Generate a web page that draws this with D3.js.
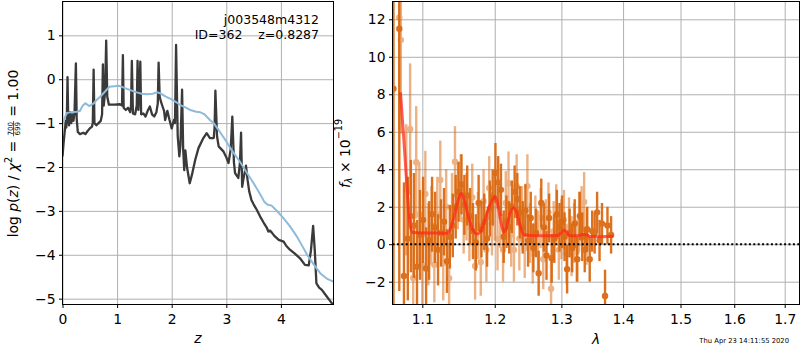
<!DOCTYPE html>
<html>
<head>
<meta charset="utf-8">
<script src="https://cdn.jsdelivr.net/npm/d3@7"></script>
<style>
  body { margin: 0; background: #fff; }
  svg { display: block; }
  text { font-family: "DejaVu Sans", sans-serif; fill: #000; }
</style>
</head>
<body>
<svg id="fig" width="800" height="350"></svg>
<script>
// ---- data: left panel, log p(z) (dark) and prior-ish smooth curve (blue) [z, value]
var pzDark = [
  [0.00,-1.76],[0.02,-1.45],[0.04,-1.2],[0.06,-0.95],[0.07,-1.1],[0.08,-0.85],[0.092,0.05],[0.105,-0.9],
  [0.12,-1.05],[0.14,-0.75],[0.16,-1.0],[0.18,-0.8],[0.2,-0.95],[0.22,-0.78],[0.245,0.36],[0.26,-0.9],
  [0.28,-1.2],[0.32,-1.25],[0.38,-1.22],[0.42,-1.25],[0.46,-1.18],[0.5,-1.12],[0.54,-1.08],[0.555,-1.0],
  [0.57,0.22],[0.585,-1.0],[0.62,-1.05],[0.66,-1.0],[0.7,-0.95],[0.725,-0.8],[0.74,0.34],[0.755,-0.6],
  [0.78,-0.3],[0.80,0.88],[0.82,-0.4],[0.85,-0.58],[0.95,-0.58],[1.05,-0.57],[1.09,-0.6],[1.106,0.55],
  [1.12,-0.65],[1.16,-0.7],[1.2,-0.65],[1.24,-0.75],[1.255,-0.6],[1.27,0.42],[1.29,-0.78],[1.33,-0.8],
  [1.36,-0.6],[1.375,0.42],[1.39,-0.7],[1.41,-0.2],[1.425,0.40],[1.44,-0.8],[1.48,-0.78],[1.52,-0.85],
  [1.56,-0.72],[1.6,-0.62],[1.64,-0.8],[1.68,-0.85],[1.72,-0.75],[1.745,-0.55],[1.76,0.38],[1.78,-0.4],
  [1.80,-0.5],[1.84,-0.65],[1.86,-0.72],[1.88,-0.93],[1.92,-0.72],[1.96,-0.93],[2.0,-1.12],[2.04,-0.93],
  [2.06,-1.0],[2.08,0.78],[2.11,-1.3],[2.14,-1.76],[2.16,-1.5],[2.19,-0.24],[2.21,-1.6],[2.23,-2.07],
  [2.25,-1.62],[2.28,-2.0],[2.33,-2.37],[2.37,-2.18],[2.43,-1.84],[2.49,-1.57],[2.58,-1.34],[2.64,-1.23],
  [2.70,-1.34],[2.77,-1.34],[2.785,-1.1],[2.80,-0.26],[2.83,-1.3],[2.86,-1.53],[2.95,-1.65],[3.0,-1.78],
  [3.04,-1.91],[3.08,-1.6],[3.11,-0.85],[3.14,-1.9],[3.16,-2.14],[3.22,-2.25],[3.25,-1.9],[3.27,-1.22],
  [3.29,-2.45],[3.31,-2.3],[3.34,-2.1],[3.36,-1.97],[3.39,-2.3],[3.42,-2.56],[3.46,-2.75],[3.5,-2.85],
  [3.56,-2.98],[3.62,-3.13],[3.68,-3.26],[3.74,-3.38],[3.77,-3.47],[3.8,-3.45],[3.83,-3.49],[3.88,-3.57],
  [3.96,-3.66],[4.05,-3.70],[4.1,-3.8],[4.17,-3.89],[4.25,-3.97],[4.35,-4.08],[4.44,-4.23],[4.51,-4.24],
  [4.55,-3.9],[4.59,-3.34],[4.62,-3.9],[4.65,-4.65],[4.7,-4.75],[4.75,-4.8],[4.84,-4.95],[4.9,-5.05],
  [4.93,-5.10],[4.96,-5.15]
];
var pzBlue = [
  [0.0,-1.0],[0.02,-0.93],[0.08,-0.77],[0.15,-0.75],[0.26,-0.74],[0.32,-0.72],[0.37,-0.6],[0.42,-0.55],
  [0.49,-0.61],[0.57,-0.55],[0.62,-0.48],[0.69,-0.40],[0.78,-0.28],[0.86,-0.17],[0.95,-0.16],[1.03,-0.15],
  [1.1,-0.18],[1.18,-0.22],[1.27,-0.26],[1.36,-0.30],[1.45,-0.33],[1.55,-0.34],[1.65,-0.33],[1.73,-0.30],
  [1.79,-0.32],[1.9,-0.40],[2.0,-0.46],[2.08,-0.52],[2.16,-0.59],[2.25,-0.64],[2.34,-0.70],[2.45,-0.74],
  [2.52,-0.75],[2.6,-0.80],[2.70,-0.93],[2.77,-1.0],[2.86,-1.16],[2.98,-1.38],[3.1,-1.62],[3.25,-1.88],
  [3.37,-2.12],[3.5,-2.37],[3.62,-2.62],[3.70,-2.80],[3.76,-2.86],[3.83,-2.88],[3.94,-3.02],[4.05,-3.17],
  [4.17,-3.36],[4.29,-3.58],[4.4,-3.82],[4.48,-4.0],[4.6,-4.22],[4.72,-4.42],[4.85,-4.55],[4.96,-4.61]
];
var zTicks = [0, 1, 2, 3, 4];
var lnpTicks = [-5, -4, -3, -2, -1, 0, 1];

// ---- data: right panel spectra [lambda (um), flux (1e-19), err]
var darkSpec = [
  [1.0625,8.3,20],[1.0700,11.5,14],[1.0760,-1.7,5],[1.0810,0.3,3.3],[1.0850,1.5,3.0],[1.0890,1.0,2.8],
  [1.0930,-1.2,2.5],[1.0970,0.5,2.4],[1.1010,1.3,2.3],[1.1050,-1.3,2.2],[1.1090,0.2,2.1],[1.1130,1.6,2.0],
  [1.1170,0.9,1.9],[1.1210,-0.3,1.9],[1.1250,0.6,1.8],[1.1290,1.2,1.8],[1.1330,-0.9,1.7],[1.1370,0.4,1.7],
  [1.1410,1.0,1.7],[1.1450,2.0,1.7],[1.1490,2.8,1.6],[1.1530,3.2,1.6],[1.1570,2.1,1.6],[1.1610,2.6,1.6],
  [1.1650,1.5,1.5],[1.1690,0.7,1.5],[1.1730,0.1,1.5],[1.1770,2.2,1.5],[1.1810,0.8,1.5],[1.1850,1.2,1.5],
  [1.1890,0.3,1.5],[1.1930,1.9,1.5],[1.1970,2.5,1.5],[1.2010,3.8,1.6],[1.2050,3.3,1.4],[1.2090,2.9,1.4],
  [1.2130,0.4,1.4],[1.2170,1.2,1.4],[1.2210,0.9,1.4],[1.2250,2.0,1.4],[1.2290,2.8,1.4],[1.2330,2.4,1.4],
  [1.2370,1.7,1.4],[1.2410,0.9,1.4],[1.2450,1.8,1.4],[1.2490,0.2,1.4],[1.2530,1.4,1.4],[1.2570,-0.2,1.3],
  [1.2610,0.6,1.3],[1.2650,-1.55,1.2],[1.2690,2.2,1.3],[1.2730,0.9,1.3],[1.2770,-0.6,1.3],[1.2810,1.4,1.3],
  [1.2850,-0.75,1.3],[1.2890,0.3,1.3],[1.2930,1.6,1.3],[1.2970,0.9,1.3],[1.3010,1.2,1.4],[1.3050,0.4,1.3],
  [1.3090,-1.33,1.3],[1.3130,0.6,1.3],[1.3170,-0.2,1.3],[1.3210,1.1,1.3],[1.3250,-0.8,1.2],[1.3290,1.5,1.3],
  [1.3330,0.4,1.3],[1.3370,-0.3,1.2],[1.3410,0.8,1.2],[1.3450,-0.8,1.2],[1.3490,0.7,1.1],[1.3530,0.6,1.1],
  [1.3570,1.7,1.1],[1.3610,0.2,1.1],[1.3650,1.1,1.1],[1.3700,-2.76,1.4],[1.3740,1.0,1.0],[1.3800,0.5,1.0]
];
var lightSpec = [
  [1.0700,12.1,6],[1.0720,10.9,5],[1.0790,2.9,3.5],[1.0840,6.15,3.5],[1.0880,-1.8,2.5],[1.0920,4.37,3.0],
  [1.0960,1.6,2.8],[1.1000,-1.14,2.5],[1.1040,2.68,2.3],[1.1080,0.0,2.2],[1.1120,1.0,2.1],[1.1160,-1.1,2.0],
  [1.1200,1.6,2.0],[1.1240,3.43,2.1],[1.1280,-1.0,2.0],[1.1320,2.0,2.0],[1.1360,-1.81,1.9],[1.1400,1.9,1.9],
  [1.1440,4.4,1.9],[1.1480,2.6,1.8],[1.1520,3.0,1.8],[1.1560,1.3,1.8],[1.1600,2.0,1.8],[1.1640,0.9,1.8],
  [1.1680,2.5,1.8],[1.1720,-1.16,1.8],[1.1760,1.0,1.8],[1.1800,-0.95,1.8],[1.1840,2.3,1.7],[1.1880,-0.3,1.7],
  [1.1920,3.0,1.7],[1.1960,1.1,1.7],[1.2000,2.0,1.8],[1.2040,0.3,1.7],[1.2080,1.5,1.7],[1.2120,-0.3,1.7],
  [1.2160,2.2,1.7],[1.2200,3.25,1.7],[1.2240,0.5,1.7],[1.2280,-0.3,1.7],[1.2320,3.1,1.7],[1.2360,0.3,1.7],
  [1.2400,1.5,1.6],[1.2440,-0.2,1.6],[1.2480,3.1,1.7],[1.2520,0.6,1.6],[1.2560,-0.5,1.6],[1.2600,1.0,1.6],
  [1.2640,0.2,1.6],[1.2680,1.4,1.6],[1.2720,-0.8,1.6],[1.2760,0.8,1.6],[1.2800,1.7,1.6],[1.2840,-2.38,1.6],
  [1.2880,0.7,1.6],[1.2920,1.6,1.6],[1.2960,-0.3,1.6],[1.3000,0.8,1.6],[1.3040,1.3,1.6],[1.3080,-0.5,1.6],
  [1.3120,0.9,1.6],[1.3160,-0.1,1.6],[1.3200,0.6,1.6],[1.3240,-0.4,1.6],[1.3280,1.2,1.6],[1.3320,1.5,1.6],
  [1.3360,2.25,1.6],[1.3400,0.4,1.5]
];
var modelSpec = [
  [1.0715,8.1],[1.0760,5.5],[1.0800,3.0],[1.0840,1.0],[1.0880,0.62],[1.1000,0.6],[1.1200,0.6],[1.1330,0.58],
  [1.1380,0.85],[1.1430,1.5],[1.1480,2.3],[1.1530,2.72],[1.1580,2.2],[1.1630,1.4],[1.1680,0.85],[1.1720,0.6],
  [1.1760,0.55],[1.1800,0.7],[1.1850,1.2],[1.1900,1.8],[1.1960,2.3],[1.2010,2.54],[1.2060,1.8],[1.2100,1.0],
  [1.2130,0.64],[1.2170,0.9],[1.2210,1.5],[1.2270,1.95],[1.2320,1.7],[1.2370,1.0],[1.2430,0.5],[1.2600,0.45],
  [1.2800,0.45],[1.2950,0.48],[1.3000,0.62],[1.3040,0.74],[1.3080,0.65],[1.3130,0.45],[1.3250,0.45],[1.3340,0.52],
  [1.3400,0.5],[1.3450,0.42],[1.3600,0.4],[1.3840,0.42]
];
var lamTicks = [1.1, 1.2, 1.3, 1.4, 1.5, 1.6, 1.7];
var fluxTicks = [-2, 0, 2, 4, 6, 8, 10, 12];

var fs = 13.9;
var svg = d3.select('#fig');
var defs = svg.append('defs');

var boxL = {x0: 62.5, x1: 333.5, y0: 1.5, y1: 304.5};
var boxR = {x0: 392.5, x1: 799.5, y0: 1.5, y1: 304.5};

var xz = d3.scaleLinear().domain([0, 4.963]).range([boxL.x0, boxL.x1]);
var yz = d3.scaleLinear().domain([-5.133, 1.771]).range([boxL.y1, boxL.y0]);
var xl = d3.scaleLog().domain([1.0613, 1.7305]).range([boxR.x0, boxR.x1]);
var yf = d3.scaleLinear().domain([-3.217, 12.95]).range([boxR.y1, boxR.y0]);

function clip(id, b) {
  defs.append('clipPath').attr('id', id).append('rect')
    .attr('x', b.x0).attr('y', b.y0).attr('width', b.x1 - b.x0).attr('height', b.y1 - b.y0);
}
clip('clipL', boxL);
clip('clipR', boxR);

// grid + axes
function axes(b, x, y, xt, yt, xfmt, yfmt) {
  var gx = svg.append('g').attr('transform', 'translate(0,' + b.y1 + ')');
  gx.call(d3.axisBottom(x).tickValues(xt).tickSize(-(b.y1 - b.y0)).tickFormat(''));
  gx.select('.domain').remove();
  gx.selectAll('line').attr('stroke', '#b0b0b0').attr('stroke-width', 1);

  var gy = svg.append('g').attr('transform', 'translate(' + b.x0 + ',0)');
  gy.call(d3.axisLeft(y).tickValues(yt).tickSize(-(b.x1 - b.x0)).tickFormat(''));
  gy.select('.domain').remove();
  gy.selectAll('line').attr('stroke', '#b0b0b0').attr('stroke-width', 1);

  var ax = svg.append('g').attr('class', 'ax').attr('transform', 'translate(0,' + b.y1 + ')')
    .call(d3.axisBottom(x).tickValues(xt).tickSize(3.5).tickPadding(6.6).tickFormat(xfmt));
  var ay = svg.append('g').attr('class', 'ax').attr('transform', 'translate(' + b.x0 + ',0)')
    .call(d3.axisLeft(y).tickValues(yt).tickSize(3.5).tickPadding(3.5).tickFormat(yfmt));
  [ax, ay].forEach(function(a) {
    a.select('.domain').remove();
    a.selectAll('line').attr('stroke', '#000').attr('stroke-width', 1);
    a.selectAll('text').attr('font-size', fs).attr('font-family', '"DejaVu Sans", sans-serif').attr('fill', '#000');
  });
}
axes(boxL, xz, yz, zTicks, lnpTicks, d3.format('d'), d3.format('d'));
axes(boxR, xl, yf, lamTicks, fluxTicks, d3.format('.1f'), d3.format('d'));

// ---- left: p(z)
var gL = svg.append('g').attr('clip-path', 'url(#clipL)');
var lineZ = d3.line().x(function(d) { return xz(d[0]); }).y(function(d) { return yz(d[1]); });
gL.append('path').datum(pzDark).attr('d', lineZ)
  .attr('fill', 'none').attr('stroke', '#3a3a3a').attr('stroke-width', 2.3).attr('stroke-linejoin', 'round');
gL.append('path').datum(pzBlue).attr('d', lineZ)
  .attr('fill', 'none').attr('stroke', '#8fbbda').attr('stroke-width', 2);

// ---- right: spectrum
var gR = svg.append('g').attr('clip-path', 'url(#clipR)');
var orange = '#d9660c';
function spec(data, op) {
  var g = gR.append('g').attr('opacity', op);
  g.selectAll('line').data(data).enter().append('line')
    .attr('x1', function(d) { return xl(d[0]); }).attr('x2', function(d) { return xl(d[0]); })
    .attr('y1', function(d) { return yf(d[1] - d[2]); }).attr('y2', function(d) { return yf(d[1] + d[2]); })
    .attr('stroke', orange).attr('stroke-width', 2.4);
  g.selectAll('circle').data(data).enter().append('circle')
    .attr('cx', function(d) { return xl(d[0]); }).attr('cy', function(d) { return yf(d[1]); })
    .attr('r', 3.2).attr('fill', orange);
}
spec(lightSpec, 0.5);
spec(darkSpec, 0.92);

var lineS = d3.line().curve(d3.curveMonotoneX)
  .x(function(d) { return xl(d[0]); }).y(function(d) { return yf(d[1]); });
gR.append('path').datum(modelSpec).attr('d', lineS)
  .attr('fill', 'none').attr('stroke', '#ff2a1a').attr('stroke-opacity', 0.75).attr('stroke-width', 3);

gR.append('line').attr('x1', boxR.x0).attr('x2', boxR.x1).attr('y1', yf(0)).attr('y2', yf(0))
  .attr('stroke', '#000').attr('stroke-width', 2).attr('stroke-dasharray', '2,2.4');

// frames
[boxL, boxR].forEach(function(b) {
  svg.append('rect').attr('x', b.x0).attr('y', b.y0).attr('width', b.x1 - b.x0).attr('height', b.y1 - b.y0)
    .attr('fill', 'none').attr('stroke', '#000').attr('stroke-width', 1);
});

// ---- labels
svg.append('text').attr('x', 319).attr('y', 24).attr('text-anchor', 'end').attr('font-size', 12.5)
  .text('j003548m4312');
svg.append('text').attr('x', 319).attr('y', 39).attr('text-anchor', 'end').attr('font-size', 12.5)
  .attr('xml:space', 'preserve').style('white-space', 'pre')
  .text('ID=362    z=0.8287');

svg.append('text').attr('x', (boxL.x0 + boxL.x1) / 2).attr('y', 343).attr('text-anchor', 'middle')
  .attr('font-size', fs).attr('font-style', 'italic').text('z');
svg.append('text').attr('x', (boxR.x0 + boxR.x1) / 2).attr('y', 344).attr('text-anchor', 'middle')
  .attr('font-size', fs).attr('font-style', 'italic').text('λ');

svg.append('text').attr('x', 789).attr('y', 342.5).attr('text-anchor', 'end').attr('font-size', 6.8)
  .text('Thu Apr 23 14:11:55 2020');

// rotated math label builder: pieces laid out along the text direction
function mathLabel(tx, ty, pieces) {
  var g = svg.append('g').attr('transform', 'translate(' + tx + ',' + ty + ') rotate(-90)');
  var inner = g.append('g');
  var cur = 0;
  pieces.forEach(function(p) {
    if (p.frac) {
      var sz = 7.2;
      var n = inner.append('text').attr('x', cur).attr('y', -5.0).attr('font-size', sz).text(p.frac[0]);
      var dd = inner.append('text').attr('x', cur).attr('y', 2.0).attr('font-size', sz).text(p.frac[1]);
      var w = Math.max(n.node().getComputedTextLength(), dd.node().getComputedTextLength()) + 1.5;
      n.attr('x', cur + 0.75); dd.attr('x', cur + 0.75);
      inner.append('line').attr('x1', cur).attr('x2', cur + w).attr('y1', -3.9).attr('y2', -3.9)
        .attr('stroke', '#000').attr('stroke-width', 0.7);
      cur += w;
      return;
    }
    var t = inner.append('text').attr('x', cur).attr('y', p.dy || 0)
      .attr('font-size', p.size || fs)
      .attr('xml:space', 'preserve').style('white-space', 'pre')
      .text(p.t);
    if (p.it) t.attr('font-style', 'italic');
    cur += t.node().getComputedTextLength();
  });
  inner.attr('transform', 'translate(' + (-cur / 2) + ',0)');
}

mathLabel(17.5, 153.5, [
  {t: 'log '}, {t: 'p', it: true}, {t: '('}, {t: 'z', it: true}, {t: ') / '},
  {t: 'χ', it: true}, {t: '2', size: 9.7, dy: -5.5}, {t: ' = '},
  {frac: ['700', '699']}, {t: ' = 1.00'}
]);

mathLabel(349.5, 153.5, [
  {t: 'f', it: true}, {t: 'λ', it: true, size: 9.7, dy: 2.5}, {t: ' × 10'},
  {t: '−19', size: 9.7, dy: -7.5}
]);
</script>
</body>
</html>
